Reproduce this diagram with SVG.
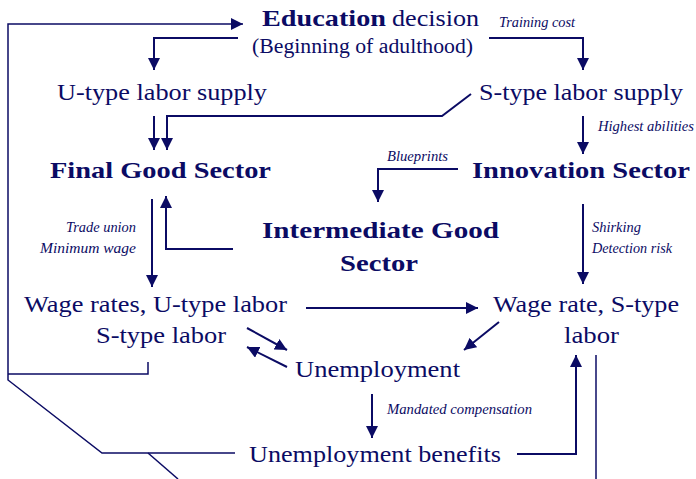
<svg xmlns="http://www.w3.org/2000/svg" width="696" height="479" viewBox="0 0 696 479">
  <style>
    text { font-family: "Liberation Serif", "Noto Serif", "Times New Roman", serif; fill: #0b0b64; }
    .reg { font-size: 24px; }
    .bold { font-size: 23px; font-weight: bold; }
    .sub { font-size: 20px; }
    .lab { font-size: 14px; font-style: italic; }
    .c { fill: none; stroke: #0b0b64; stroke-width: 2; }
    .thin { fill: none; stroke: #0b0b64; stroke-width: 1.5; }
  </style>
  <defs>
    <marker id="arrow" viewBox="0 0 12 12" refX="12" refY="6" markerWidth="12" markerHeight="12" markerUnits="userSpaceOnUse" orient="auto">
      <path d="M0,0 L12,6 L0,12 Z" fill="#0b0b64"/>
    </marker>
  </defs>
  <rect width="696" height="479" fill="#ffffff"/>

  <g id="connectors">
    <!-- feedback loop back to the education decision -->
    <path class="thin" d="M235,453 H102 L8,380 V24 H243" marker-end="url(#arrow)"/>
    <path class="thin" d="M148,362 V374 H8"/>
    <path class="thin" d="M148,453 L178,479"/>
    <path class="thin" d="M596,355 V479"/>
    <!-- education to the two labor supplies -->
    <path class="c" d="M238,38 H154 V70" marker-end="url(#arrow)"/>
    <path class="c" d="M489,38 H583 V70" marker-end="url(#arrow)"/>
    <!-- labor supplies into the sectors -->
    <path class="c" d="M154,116 V150" marker-end="url(#arrow)"/>
    <path class="c" d="M471,94 L442,116 H167 V150" marker-end="url(#arrow)"/>
    <path class="c" d="M583,116 V154" marker-end="url(#arrow)"/>
    <!-- blueprints and intermediate goods -->
    <path class="c" d="M458,169 H378 V202" marker-end="url(#arrow)"/>
    <path class="c" d="M233,249 H166 V196" marker-end="url(#arrow)"/>
    <!-- wages -->
    <path class="c" d="M152,199 V287" marker-end="url(#arrow)"/>
    <path class="c" d="M583,204 V284" marker-end="url(#arrow)"/>
    <path class="c" d="M306,308 H478" marker-end="url(#arrow)"/>
    <!-- unemployment links -->
    <path class="c" d="M247,328 L287,350" marker-end="url(#arrow)"/>
    <path class="c" d="M287,367 L247,347" marker-end="url(#arrow)"/>
    <path class="c" d="M499,322 L464,350" marker-end="url(#arrow)"/>
    <path class="c" d="M372,394 V438" marker-end="url(#arrow)"/>
    <path class="c" d="M517,454 H576 V355" marker-end="url(#arrow)"/>
  </g>

  <g id="labels">
    <text class="lab" x="499" y="27" textLength="76" lengthAdjust="spacingAndGlyphs">Training cost</text>
    <text class="lab" x="598" y="131" textLength="96" lengthAdjust="spacingAndGlyphs">Highest abilities</text>
    <text class="lab" x="387" y="161" textLength="61" lengthAdjust="spacingAndGlyphs">Blueprints</text>
    <text class="lab" x="66" y="232" textLength="70" lengthAdjust="spacingAndGlyphs">Trade union</text>
    <text class="lab" x="40" y="253" textLength="96" lengthAdjust="spacingAndGlyphs">Minimum wage</text>
    <text class="lab" x="592" y="232" textLength="49" lengthAdjust="spacingAndGlyphs">Shirking</text>
    <text class="lab" x="592" y="253" textLength="80" lengthAdjust="spacingAndGlyphs">Detection risk</text>
    <text class="lab" x="387" y="414" textLength="145" lengthAdjust="spacingAndGlyphs">Mandated compensation</text>
  </g>

  <g id="education">
    <text class="bold" x="262" y="26" textLength="124" lengthAdjust="spacingAndGlyphs">Education</text>
    <text class="reg" x="392" y="26" textLength="87" lengthAdjust="spacingAndGlyphs">decision</text>
    <text class="sub" x="252" y="53" textLength="221" lengthAdjust="spacingAndGlyphs">(Beginning of adulthood)</text>
  </g>
  <g id="u-supply">
    <text class="reg" x="57" y="100" textLength="210" lengthAdjust="spacingAndGlyphs">U-type labor supply</text>
  </g>
  <g id="s-supply">
    <text class="reg" x="479" y="100" textLength="204" lengthAdjust="spacingAndGlyphs">S-type labor supply</text>
  </g>
  <g id="final-good">
    <text class="bold" x="50" y="178" textLength="221" lengthAdjust="spacingAndGlyphs">Final Good Sector</text>
  </g>
  <g id="innovation">
    <text class="bold" x="472" y="178" textLength="218" lengthAdjust="spacingAndGlyphs">Innovation Sector</text>
  </g>
  <g id="intermediate">
    <text class="bold" x="262" y="238" textLength="237" lengthAdjust="spacingAndGlyphs">Intermediate Good</text>
    <text class="bold" x="340" y="271" textLength="78" lengthAdjust="spacingAndGlyphs">Sector</text>
  </g>
  <g id="wage-u">
    <text class="reg" x="24" y="312" textLength="263" lengthAdjust="spacingAndGlyphs">Wage rates, U-type labor</text>
    <text class="reg" x="96" y="343" textLength="130" lengthAdjust="spacingAndGlyphs">S-type labor</text>
  </g>
  <g id="wage-s">
    <text class="reg" x="493" y="312" textLength="186" lengthAdjust="spacingAndGlyphs">Wage rate, S-type</text>
    <text class="reg" x="564" y="343" textLength="55" lengthAdjust="spacingAndGlyphs">labor</text>
  </g>
  <g id="unemployment">
    <text class="reg" x="295" y="377" textLength="165" lengthAdjust="spacingAndGlyphs">Unemployment</text>
  </g>
  <g id="benefits">
    <text class="reg" x="249" y="462" textLength="252" lengthAdjust="spacingAndGlyphs">Unemployment benefits</text>
  </g>
</svg>
